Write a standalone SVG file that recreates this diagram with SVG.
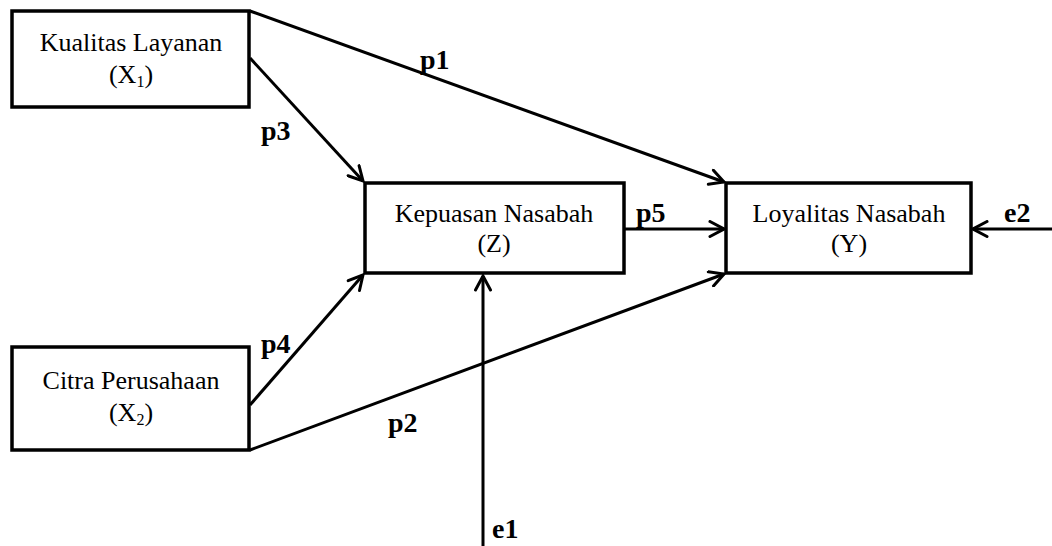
<svg xmlns="http://www.w3.org/2000/svg" width="1052" height="546" viewBox="0 0 1052 546">
  <style>
    .box { fill: #ffffff; stroke: #000000; stroke-width: 3.5; }
    .lbl { font-family: "Liberation Serif", "Times New Roman", serif; font-size: 26px; fill: #000000; text-anchor: middle; }
    .sub { font-size: 16px; }
    .path { font-family: "Liberation Serif", "Times New Roman", serif; font-size: 28px; font-weight: bold; fill: #000000; }
    .conn { stroke: #000000; stroke-width: 3; fill: none; marker-end: url(#arrow); }
  </style>
  <defs>
    <marker id="arrow" viewBox="0 0 18 18" refX="16" refY="9" markerWidth="18" markerHeight="18" markerUnits="userSpaceOnUse" orient="auto">
      <path d="M2,1.5 L16,9 L2,16.5" fill="none" stroke="#000000" stroke-width="3" stroke-linecap="round" stroke-linejoin="miter"/>
    </marker>
  </defs>

  <g id="connectors">
    <line class="conn" x1="250" y1="11" x2="724" y2="182"/>
    <line class="conn" x1="250" y1="58" x2="363" y2="181"/>
    <line class="conn" x1="250" y1="405" x2="363" y2="275"/>
    <line class="conn" x1="250" y1="450" x2="724" y2="274"/>
    <line class="conn" x1="624" y1="229" x2="724" y2="229"/>
    <line class="conn" x1="483" y1="546" x2="483" y2="276"/>
    <line class="conn" x1="1052" y1="229" x2="973" y2="229"/>
  </g>

  <g id="path-labels">
    <text class="path" x="420" y="69">p1</text>
    <text class="path" x="261" y="140">p3</text>
    <text class="path" x="261" y="353">p4</text>
    <text class="path" x="388" y="432">p2</text>
    <text class="path" x="636" y="222">p5</text>
    <text class="path" x="1004" y="222">e2</text>
    <text class="path" x="492" y="538">e1</text>
  </g>

  <g id="node-x1">
    <rect class="box" x="12" y="11" width="237" height="96"/>
    <text class="lbl" x="131" y="51">Kualitas Layanan</text>
    <text class="lbl" x="131" y="83">(X<tspan class="sub" dy="4">1</tspan><tspan dy="-4">)</tspan></text>
  </g>

  <g id="node-x2">
    <rect class="box" x="12" y="347" width="237" height="103"/>
    <text class="lbl" x="131" y="389">Citra Perusahaan</text>
    <text class="lbl" x="131" y="421">(X<tspan class="sub" dy="4">2</tspan><tspan dy="-4">)</tspan></text>
  </g>

  <g id="node-z">
    <rect class="box" x="365" y="183" width="259" height="90"/>
    <text class="lbl" x="494" y="222">Kepuasan Nasabah</text>
    <text class="lbl" x="494" y="252">(Z)</text>
  </g>

  <g id="node-y">
    <rect class="box" x="726" y="183" width="245" height="90"/>
    <text class="lbl" x="849" y="222">Loyalitas Nasabah</text>
    <text class="lbl" x="849" y="252">(Y)</text>
  </g>
</svg>
